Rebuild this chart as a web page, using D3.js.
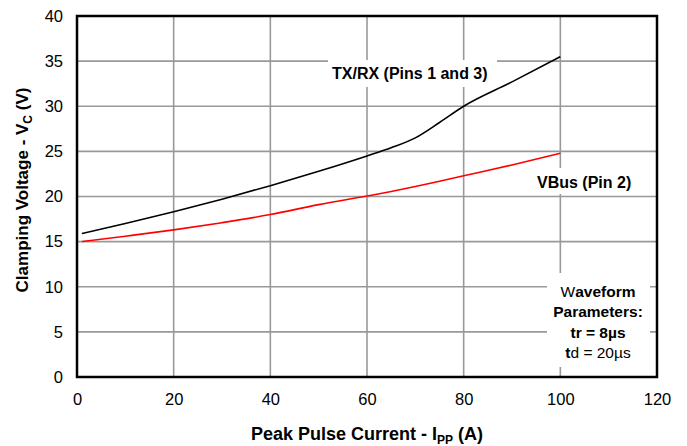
<!DOCTYPE html>
<html>
<head>
<meta charset="utf-8">
<script src="https://cdn.jsdelivr.net/npm/d3@7"></script>
<style>
  body { margin: 0; background: #fff; }
  text { font-family: "Liberation Sans", Arial, sans-serif; fill: #000; }
</style>
</head>
<body>
<div id="container"></div>
<script>
"use strict";

// data
var current = [1, 10, 20, 30, 40, 50, 60, 65, 70, 75, 80, 90, 100];
var txrxVolts = [15.9, 17.0, 18.3, 19.7, 21.2, 22.8, 24.5, 25.4, 26.5, 28.2, 30.0, 32.7, 35.5];
var vbusVolts = [15.0, 15.6, 16.3, 17.1, 18.0, 19.1, 20.05, 20.55, 21.1, 21.7, 22.3, 23.5, 24.8];
var xTicks = [0, 20, 40, 60, 80, 100, 120];
var yTicks = [0, 5, 10, 15, 20, 25, 30, 35, 40];

var width = 687;
var height = 446;
var margin = { left: 77, top: 16, right: 30, bottom: 69 };
var w = width - margin.left - margin.right;
var h = height - margin.top - margin.bottom;

var svg = d3.select("#container").append("svg").attr("width", width).attr("height", height);
var g = svg.append("g").attr("transform", "translate(" + margin.left + "," + margin.top + ")");

var x = d3.scaleLinear().domain([0, 120]).range([0, w]);
var y = d3.scaleLinear().domain([0, 40]).range([h, 0]);

// grid
g.append("g").selectAll("line").data(xTicks.slice(1, -1)).enter().append("line")
    .attr("x1", function (d) { return x(d); }).attr("x2", function (d) { return x(d); })
    .attr("y1", 0).attr("y2", h)
    .attr("stroke", "#999").attr("stroke-width", 1.6);
g.append("g").selectAll("line").data(yTicks.slice(1, -1)).enter().append("line")
    .attr("y1", function (d) { return y(d); }).attr("y2", function (d) { return y(d); })
    .attr("x1", 0).attr("x2", w)
    .attr("stroke", "#999").attr("stroke-width", 1.6);

// axes (labels only)
var xAxis = g.append("g").attr("transform", "translate(0," + h + ")")
    .call(d3.axisBottom(x).tickValues(xTicks).tickSize(0).tickPadding(16));
var yAxis = g.append("g")
    .call(d3.axisLeft(y).tickValues(yTicks).tickSize(0).tickPadding(14));
[xAxis, yAxis].forEach(function (a) {
    a.select(".domain").remove();
    a.selectAll("text").attr("font-size", 16.5).attr("font-family", "Liberation Sans, Arial, sans-serif").attr("fill", "#000");
});

// label boxes (white, hide the grid)
function box(x0, y0, x1, y1) {
    g.append("rect").attr("x", x0 - margin.left).attr("y", y0 - margin.top)
        .attr("width", x1 - x0).attr("height", y1 - y0).attr("fill", "#fff");
}
box(328, 60, 497, 87);
box(532, 168, 640, 194);
box(547, 273, 650, 367);

// curves
var line = d3.line().curve(d3.curveMonotoneX)
    .x(function (d) { return x(d[0]); })
    .y(function (d) { return y(d[1]); });
g.append("path").datum(d3.zip(current, txrxVolts)).attr("d", line)
    .attr("fill", "none").attr("stroke", "#000").attr("stroke-width", 1.6);
g.append("path").datum(d3.zip(current, vbusVolts)).attr("d", line)
    .attr("fill", "none").attr("stroke", "#f00").attr("stroke-width", 1.6);

// frame
g.append("rect").attr("width", w).attr("height", h)
    .attr("fill", "none").attr("stroke", "#000").attr("stroke-width", 2.5);

// series labels
svg.append("text").attr("x", 332).attr("y", 79).attr("font-size", 16).attr("font-weight", "bold")
    .text("TX/RX (Pins 1 and 3)");
svg.append("text").attr("x", 537).attr("y", 188).attr("font-size", 16).attr("font-weight", "bold")
    .text("VBus (Pin 2)");

// waveform note
var note = svg.append("text").attr("text-anchor", "middle").attr("font-size", 15.5);
var l1 = note.append("tspan").attr("x", 598).attr("y", 297);
l1.append("tspan").text("W");
l1.append("tspan").attr("font-weight", "bold").text("aveform");
note.append("tspan").attr("x", 598).attr("y", 317).attr("font-weight", "bold").text("Parameters:");
note.append("tspan").attr("x", 598).attr("y", 338).attr("font-weight", "bold").text("tr = 8\u00b5s");
var l4 = note.append("tspan").attr("x", 598).attr("y", 358);
l4.append("tspan").attr("font-weight", "bold").text("t");
l4.append("tspan").text("d = 20\u00b5s");

// axis titles
var xt = svg.append("text").attr("x", margin.left + w / 2).attr("y", 440)
    .attr("text-anchor", "middle").attr("font-size", 18).attr("font-weight", "bold");
xt.append("tspan").text("Peak Pulse Current - I");
xt.append("tspan").attr("font-size", 12).attr("dy", 4).text("PP");
xt.append("tspan").attr("dy", -4).text(" (A)");

var yt = svg.append("text").attr("transform", "translate(28," + 190 + ") rotate(-90)")
    .attr("text-anchor", "middle").attr("font-size", 17).attr("font-weight", "bold");
yt.append("tspan").text("Clamping Voltage - V");
yt.append("tspan").attr("font-size", 12).attr("dy", 4).text("C");
yt.append("tspan").attr("dy", -4).text(" (V)");
</script>
</body>
</html>
